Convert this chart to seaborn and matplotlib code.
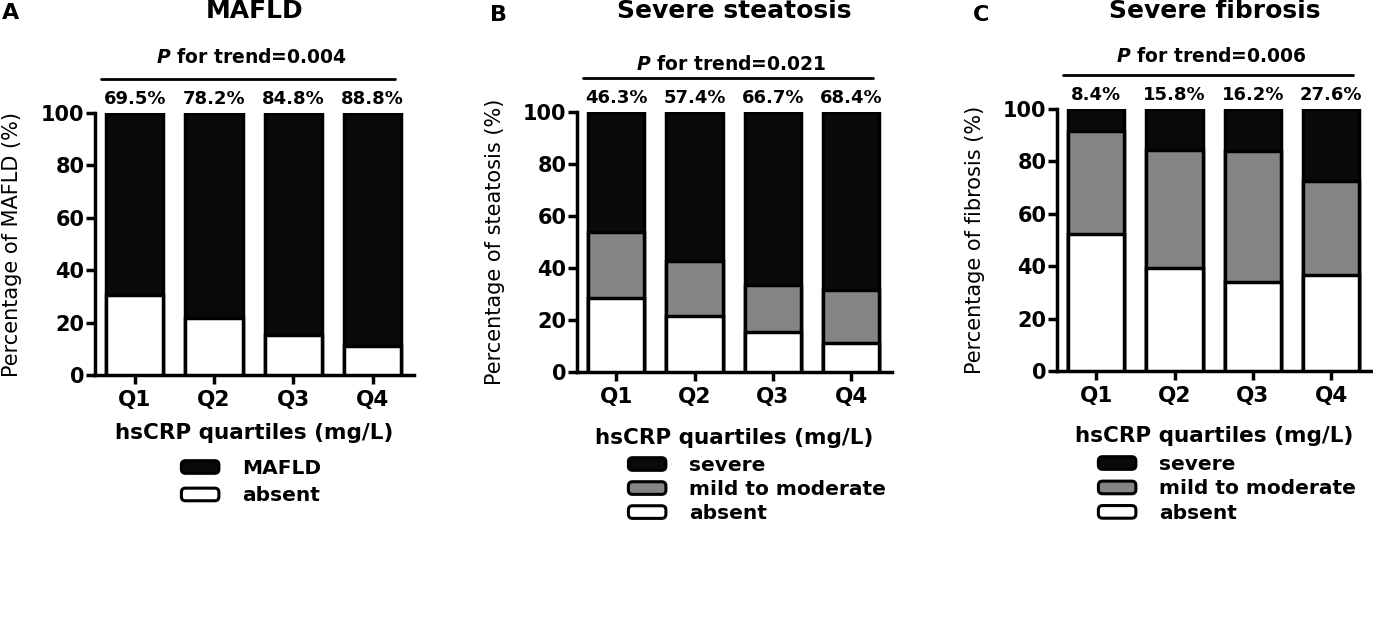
import matplotlib
matplotlib.use("Agg")
import matplotlib.pyplot as plt
import seaborn as sns
import pandas as pd
from matplotlib.patches import Patch, FancyBboxPatch
from matplotlib.legend_handler import HandlerPatch

# ---------------- data ----------------
quartiles = ["Q1", "Q2", "Q3", "Q4"]

# Panel A: MAFLD
a_mafld = [69.5, 78.2, 84.8, 88.8]
a_absent = [30.5, 21.8, 15.2, 11.2]

# Panel B: steatosis
b_severe = [46.3, 57.4, 66.7, 68.4]
b_mild = [25.4, 21.0, 18.1, 20.6]
b_absent = [28.3, 21.6, 15.2, 11.0]

# Panel C: fibrosis
c_severe = [8.4, 15.8, 16.2, 27.6]
c_mild = [39.4, 44.9, 49.8, 35.9]
c_absent = [52.2, 39.3, 34.0, 36.5]

pct_labels_a = ["69.5%", "78.2%", "84.8%", "88.8%"]
pct_labels_b = ["46.3%", "57.4%", "66.7%", "68.4%"]
pct_labels_c = ["8.4%", "15.8%", "16.2%", "27.6%"]

titles = ["MAFLD", "Severe steatosis", "Severe fibrosis"]
letters = ["A", "B", "C"]
ylabels = ["Percentage of MAFLD (%)", "Percentage of steatosis (%)", "Percentage of fibrosis (%)"]
p_texts = ["0.004", "0.021", "0.006"]
xlabel = "hsCRP quartiles (mg/L)"

BLACK = "#0a0a0a"
GRAY = "#858585"
WHITE = "#ffffff"

# ---------------- style ----------------
sns.set_style("ticks")
plt.rcParams["font.family"] = ["DejaVu Sans"]
plt.rcParams["mathtext.fontset"] = "custom"
plt.rcParams["mathtext.it"] = "DejaVu Sans:italic:bold"
plt.rcParams["mathtext.rm"] = "DejaVu Sans:bold"
for key in ["text.color", "axes.labelcolor", "xtick.color", "ytick.color", "axes.edgecolor"]:
    plt.rcParams[key] = "black"

fig = plt.figure(figsize=(13.73, 6.39), dpi=100)

W, H = 1373, 639
def axrect(l, r, top, bot):
    return [l / W, 1 - bot / H, (r - l) / W, (bot - top) / H]

rects = [axrect(95, 414, 113, 375), axrect(577, 892, 112, 372), axrect(1057, 1372, 109, 371)]

panels = [
    dict(layers=[("MAFLD", a_mafld, BLACK), ("absent", a_absent, WHITE)], labels=pct_labels_a),
    dict(layers=[("severe", b_severe, BLACK), ("mild to moderate", b_mild, GRAY), ("absent", b_absent, WHITE)], labels=pct_labels_b),
    dict(layers=[("severe", c_severe, BLACK), ("mild to moderate", c_mild, GRAY), ("absent", c_absent, WHITE)], labels=pct_labels_c),
]

def rounded_patch(legend, orig_handle, xdescent, ydescent, width, height, fontsize):
    return FancyBboxPatch((-xdescent + 1, -ydescent + 1), width - 2, height - 2,
                          boxstyle="round,pad=0,rounding_size=3")

legend_pos = [(180, 459, 0.42), (627, 456, 0.25), (1097, 455, 0.27)]
letter_pos = [(2, 13), (490, 15), (973, 15)]
xlabel_y = [-0.185, -0.215, -0.21]
p_y = [119, 116, 118]

for k, (rect, pan) in enumerate(zip(rects, panels)):
    ax = fig.add_axes(rect)
    layers = pan["layers"]
    n = len(layers)
    cum = []
    for i in range(n):
        vals = [sum(layers[j][1][q] for j in range(i, n)) for q in range(4)]
        cum.append(vals)
    for i in range(n):
        df = pd.DataFrame({"quartile": quartiles, "value": cum[i]})
        sns.barplot(data=df, x="quartile", y="value", color=layers[i][2],
                    edgecolor="black", linewidth=2.5, width=0.72, ax=ax,
                    saturation=1, zorder=2 + i)
    ax.set_xlim(-0.5, 3.52)
    ax.set_ylim(0, 100)
    ax.set_yticks([0, 20, 40, 60, 80, 100])
    for sp in ["top", "right"]:
        ax.spines[sp].set_visible(False)
    for sp in ["left", "bottom"]:
        ax.spines[sp].set_linewidth(2.5)
        ax.spines[sp].set_color("black")
    ax.tick_params(axis="both", width=2.5, length=6.5, colors="black")
    ax.tick_params(axis="y", labelsize=15, pad=1)
    ax.tick_params(axis="x", labelsize=15.5, pad=4)
    for lab in ax.get_xticklabels() + ax.get_yticklabels():
        lab.set_fontweight("bold")
    ax.set_xlabel(xlabel, fontsize=15.5, fontweight="bold")
    ax.xaxis.set_label_coords(0.5, xlabel_y[k])
    ax.set_ylabel(ylabels[k], fontsize=15)
    ax.yaxis.set_label_coords(-0.23, 0.5)

    for q in range(4):
        ax.text(q, 103.5, pan["labels"][q], ha="center", va="baseline", fontsize=13,
                fontweight="bold", clip_on=False)
    ax.plot([-0.42, 3.28], [113, 113], color="black", lw=2, clip_on=False)
    ax.text(1.47, p_y[k], "$P$ for trend=" + p_texts[k], ha="center", va="baseline",
            fontsize=13.5, fontweight="bold", clip_on=False)

    bbox = ax.get_position()
    fig.text((bbox.x0 + bbox.x1) / 2, 1 - 11 / H, titles[k], fontsize=18,
             fontweight="bold", ha="center", va="center")

    handles = [Patch(facecolor=c, edgecolor="black", linewidth=2.2, label=lbl)
               for (lbl, _, c) in layers]
    lx, ly, ls = legend_pos[k]
    fig.legend(handles=handles, loc="upper left", bbox_to_anchor=(lx / W, 1 - ly / H),
               frameon=False, prop={"weight": "bold", "size": 14.5},
               handlelength=2.0, handleheight=0.8, handletextpad=1.1,
               labelspacing=ls, borderpad=0, borderaxespad=0,
               handler_map={Patch: HandlerPatch(patch_func=rounded_patch)})

    lxp, lyp = letter_pos[k]
    fig.text(lxp / W, 1 - lyp / H, letters[k], fontsize=16, fontweight="bold",
             ha="left", va="center")

fig.savefig("out.png", dpi=100)
